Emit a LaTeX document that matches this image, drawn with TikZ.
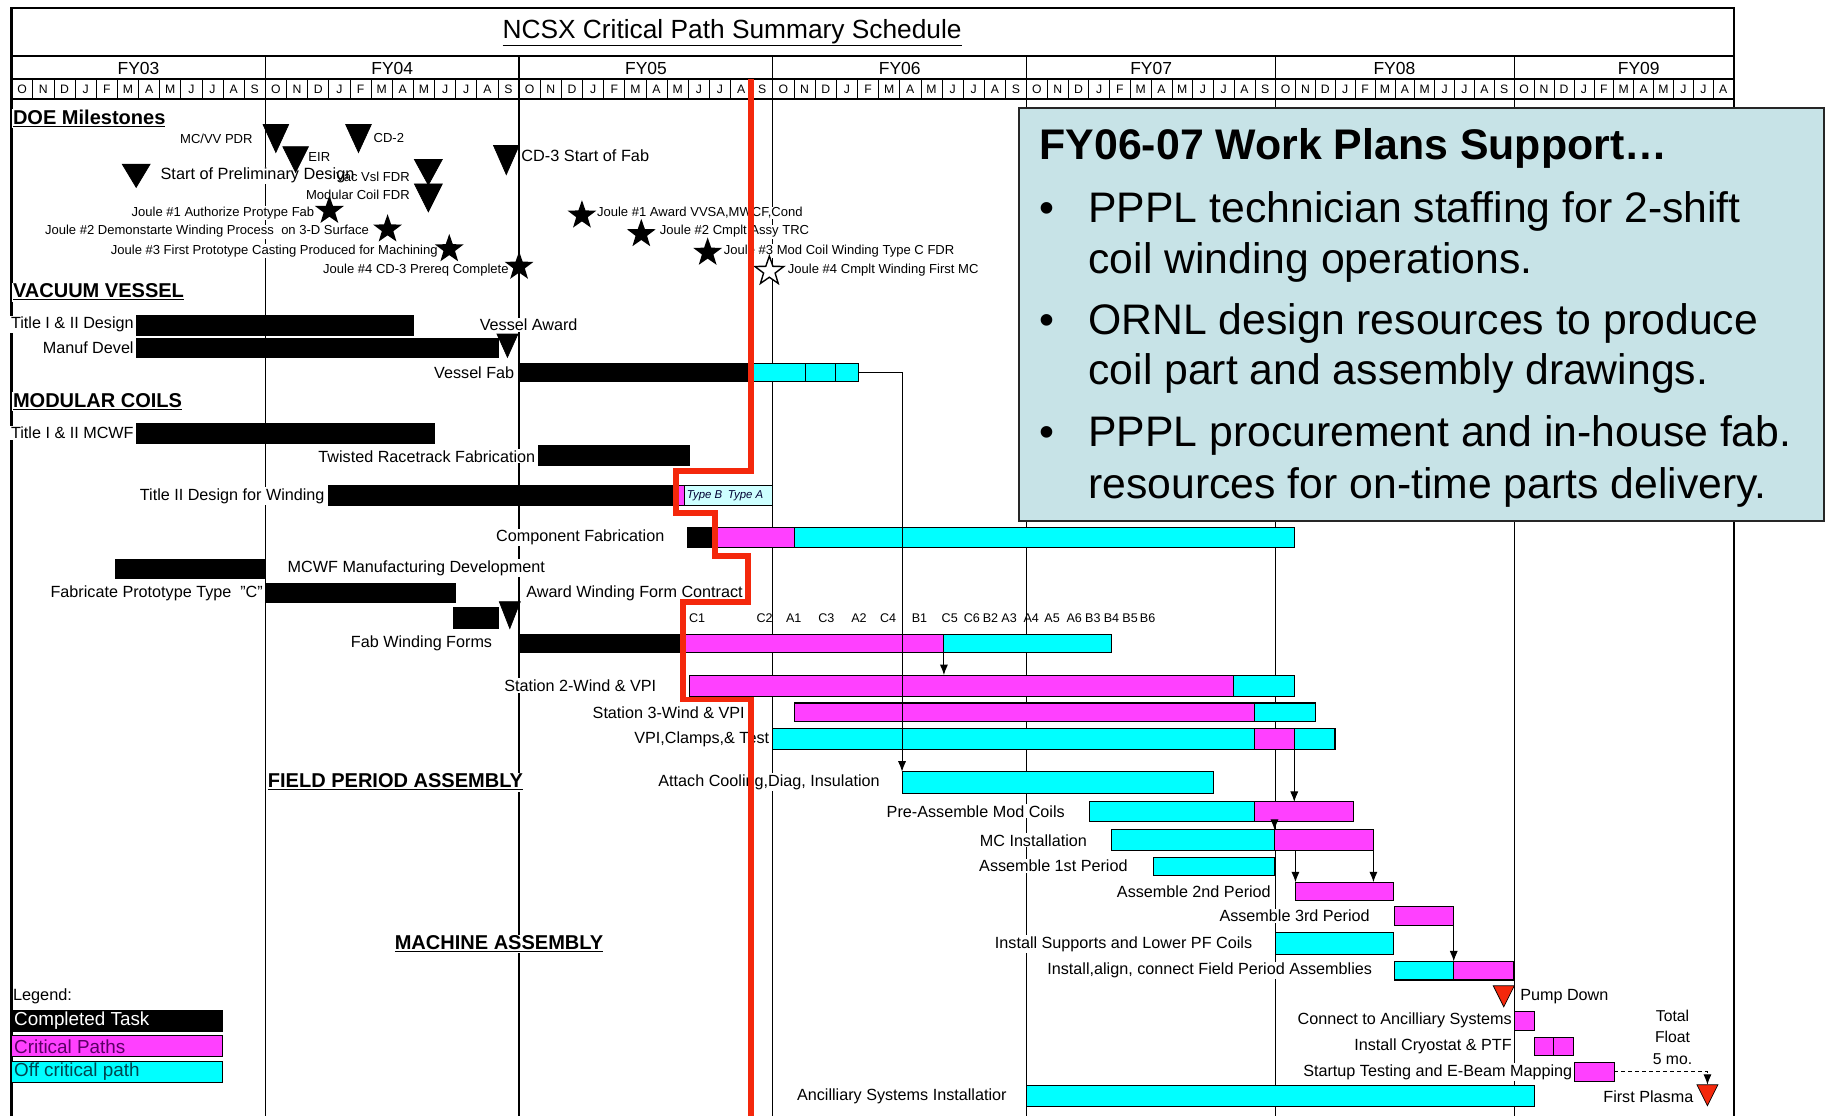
\documentclass[tikz,border=0pt]{standalone}
\usepackage{fontspec}
\setmainfont{Liberation Sans}
\usetikzlibrary{shapes.geometric,arrows.meta}
\definecolor{mag}{RGB}{255,64,255}
\definecolor{cyn}{RGB}{0,255,255}
\definecolor{redl}{RGB}{244,40,12}
\definecolor{callbg}{RGB}{199,227,231}
\definecolor{palecy}{RGB}{205,255,255}
\definecolor{critx}{RGB}{90,0,100}
\definecolor{offx}{RGB}{0,70,80}
\newcommand\fs[1]{\fontsize{#1}{#1}\selectfont}
\newcommand\gb[6]{\node[gbar,fill=#6,minimum width={(#3)-(#2)},minimum height={(#5)-(#4)},anchor=north west] (#1) at (#2,#4) {};}
\newcommand\mtri[6]{\coordinate (#1) at (#2,#3);\filldraw[fill=#6,draw=black,line width=0.6pt] (#2-#4/2,#3) -- (#2+#4/2,#3) -- (#2,#3+#5) -- cycle;}
\begin{document}
\begin{tikzpicture}[x=1pt,y=-1pt,
 gbar/.style={draw=black,line width=0.9pt,inner sep=0pt,outer sep=0pt},
 tl/.style={anchor=east,font=\fs{13.9},inner sep=1pt,fill=white},
 tlw/.style={anchor=west,font=\fs{13.9},inner sep=1pt,fill=white},
 ms/.style={font=\fs{11.2},inner sep=0.8pt,fill=white},
 hd/.style={anchor=west,font=\bfseries\fs{17.2},inner sep=1pt,fill=white},
 yl/.style={line width=1.1pt},
 arr/.style={-{Latex[length=9pt,width=7pt]},line width=0.9pt},
 st/.style={star,star points=5,star point ratio=2.5,fill=black,minimum size=26pt,inner sep=0pt},
 cl/.style={anchor=base west,font=\fs{36.7},inner sep=0pt},
 cab/.style={font=\fs{10.8},inner sep=0pt},
 lgt/.style={anchor=west,font=\fs{16.2},inner sep=1pt}
]
\useasboundingbox (0,0) rectangle (1568,959);
\fill[white] (0,0) rectangle (1568,959);

% ---------- header ----------
\foreach \x in {228,446,664,882,1096,1301} \draw[yl] (\x,48) -- (\x,959);
\draw[line width=2pt] (10,959) -- (10,7) -- (1490,7) -- (1490,959);
\draw[line width=1.5pt] (10,48) -- (1490,48);
\draw[line width=1.2pt] (10,68) -- (1490,68) (10,85) -- (1490,85);
\node[font=\fs{22.6},inner sep=0] (title) at (629,28) {\underline{NCSX Critical Path Summary Schedule}};
\foreach \lab/\cx [count=\i] in {FY03/119,FY04/337,FY05/555,FY06/773,FY07/989,FY08/1198,FY09/1408}
  \node[font=\fs{15},inner sep=0] (fy\i) at (\cx,58.5) {\lab};
\foreach \s/\mw/\n [count=\i] in {10/18.1667/12,228/18.1667/12,446/18.1667/12,664/18.1667/12,882/17.833/12,1096/17.083/12,1301/17.1/11}{
  \foreach \m [count=\k from 0] in {O,N,D,J,F,M,A,M,J,J,A,S}{
    \ifnum\k<\n
      \node[font=\fs{10.5},inner sep=0] (m\i-\k) at ({\s+\k*\mw+\mw/2},76.8) {\m};
      \draw[line width=0.6pt] ({\s+\k*\mw+\mw},69) -- ({\s+\k*\mw+\mw},85);
    \fi
  }
}

% ---------- DOE milestones ----------
\node[hd] (hdoe) at (10,102) {\underline{DOE Milestones}};
\node[ms,anchor=east] (lmcvv) at (218,119) {MC/VV PDR};
\node[ms,anchor=west] (lcd2) at (320,119) {CD-2};
\node[ms,anchor=west] (leir) at (264,135) {EIR};
\node[ms,anchor=west,font=\fs{14}] (lspd) at (137,151) {Start of Preliminary Design};
\node[ms,anchor=east,fill=none] (lvv) at (353,152) {Vac Vsl FDR};
\node[ms,anchor=east,fill=none] (lmc) at (353,167) {Modular Coil FDR};
\node[ms,anchor=west,font=\fs{14}] (lcd3) at (447,134) {CD-3 Start of Fab};
\node[ms,anchor=east] (lj1) at (271,183) {Joule \#1 Authorize Protype Fab};
\node[ms,anchor=east] (lj2) at (318,199) {Joule \#2 Demonstarte Winding Process\ \ on 3-D Surface};
\node[ms,anchor=east] (lj3) at (377,216) {Joule \#3 First Prototype Casting Produced for Machining};
\node[ms,anchor=east] (lj4) at (438,232) {Joule \#4 CD-3 Prereq Complete};
\node[ms,anchor=west] (lj5) at (512,183) {Joule \#1 Award VVSA,MWCF,Cond};
\node[ms,anchor=west] (lj6) at (566,199) {Joule \#2 Cmplt Assy TRC};
\node[ms,anchor=west] (lj7) at (621,216) {Joule \#3 Mod Coil Winding Type C FDR};
\node[ms,anchor=west] (lj8) at (676,232) {Joule \#4 Cmplt Winding First MC};
\mtri{tmcvv}{237}{107}{22}{24}{black}
\mtri{tcd2}{308}{107}{22}{24}{black}
\mtri{teir}{254}{126}{22}{22}{black}
\mtri{tspd}{117}{141}{24}{20}{black}
\mtri{tvv}{368}{137}{24}{22}{black}
\mtri{tmc}{368}{158}{24}{24}{black}
\mtri{tcd3}{435}{125}{22}{25}{black}
\node[st] (s1) at (283,181) {};
\node[st] (s2) at (333,197) {};
\node[st] (s3) at (386,214) {};
\node[st] (s4) at (446,229) {};
\node[st] (s5) at (500,185) {};
\node[st] (s6) at (551,201) {};
\node[st] (s7) at (608,217) {};
\node[st,fill=white,draw=black,line width=1.2pt] (s8) at (661,233) {};

% ---------- vacuum vessel ----------
\node[hd] (hvv) at (10,251) {\underline{VACUUM VESSEL}};
\node[tl] (ltid) at (116,279) {Title I \& II Design};
\gb{btid}{117}{355}{271}{288}{black}
\node[tl] (lmd) at (116,299) {Manuf Devel};
\gb{bmd}{117}{428}{291}{307}{black}
\node[tlw] (lva) at (411,279) {Vessel Award};
\mtri{tva}{436}{287}{18}{20}{black}
\node[tl] (lvf) at (443,320) {Vessel Fab};
\gb{vfk}{446}{645}{312}{328}{black}
\gb{vfc}{645}{738}{312}{328}{cyn}
\draw[line width=0.9pt] (692,312) -- (692,328) (718,312) -- (718,328);

% ---------- modular coils ----------
\node[hd] (hmc) at (10,345) {\underline{MODULAR COILS}};
\node[tl] (ltmc) at (116,372) {Title I \& II MCWF};
\gb{btmc}{117}{373}{364}{381}{black}
\node[tl] (ltrf) at (461,392) {Twisted Racetrack Fabrication};
\gb{btrf}{463}{592}{383}{400}{black}
\node[tl] (ltdw) at (280,426) {Title II Design for Winding};
\gb{tdk}{282}{582}{417}{434}{black}
\gb{tdm}{582}{588}{417}{434}{mag}
\gb{tdp}{588}{664}{417}{434}{palecy}
\node[anchor=west,font=\itshape\fs{9.8},inner sep=0,text=black!80!blue] (ltba) at (590,426) {Type B\enspace Type A};
\node[tl] (lcf) at (572,462) {Component Fabrication};
\gb{cfk}{591}{614}{453}{470}{black}
\gb{cfm}{614}{683}{453}{470}{mag}
\gb{cfc}{683}{1112}{453}{470}{cyn}
\gb{bmmd}{99}{228}{481}{497}{black}
\node[tlw] (lmmd) at (246,488) {MCWF Manufacturing Development};
\node[tl] (lfpt) at (227,510) {Fabricate Prototype Type\ \ "C"};
\gb{bfpt}{228}{391}{501}{518}{black}
\gb{bsm}{390}{428}{522}{540}{black}
\mtri{tawf}{438}{517}{18}{23}{black}
\node[tlw] (lawf) at (451,510) {Award Winding Form Contract};
\foreach \lab/\cx [count=\i] in {C1/599,C2/657,A1/682,C3/710,A2/738,C4/763,B1/790,C5/816,C6/835,B2/851,A3/867,A4/886,A5/904,A6/923,B3/939,B4/955,B5/971,B6/986}
  \node[cab] (cab\i) at (\cx,531) {\lab};
\node[tl] (lfwf) at (424,553) {Fab Winding Forms};
\gb{fwk}{446}{588}{545}{561}{black}
\gb{fwm}{588}{811}{545}{561}{mag}
\gb{fwc}{811}{955}{545}{561}{cyn}
\node[tl] (ls2) at (565,589) {Station 2-Wind \& VPI};
\gb{s2m}{592}{1060}{580}{598}{mag}
\gb{s2c}{1060}{1112}{580}{598}{cyn}
\node[tl] (ls3) at (641,612) {Station 3-Wind \& VPI};
\gb{s3m}{683}{1078}{604}{620}{mag}
\gb{s3c}{1078}{1130}{604}{620}{cyn}
\node[tl] (lvpi) at (662,635) {VPI,Clamps,\& Test};
\gb{vpc}{664}{1078}{626}{644}{cyn}
\gb{vpm}{1078}{1112}{626}{644}{mag}
\gb{vpd}{1112}{1147}{626}{644}{cyn}

% ---------- field period assembly ----------
\node[hd] (hfpa) at (229,672) {\underline{FIELD PERIOD ASSEMBLY}};
\node[tl] (latt) at (757,672) {Attach Cooling,Diag, Insulation};
\gb{att}{775}{1043}{663}{682}{cyn}
\node[tl] (lpa) at (916,697) {Pre-Assemble Mod Coils};
\gb{pac}{936}{1078}{689}{706}{cyn}
\gb{pam}{1078}{1163}{689}{706}{mag}
\node[tl] (lmci) at (935,722) {MC Installation};
\gb{mcc}{955}{1095}{713}{731}{cyn}
\gb{mcm}{1095}{1180}{713}{731}{mag}
\node[tl] (la1) at (970,744) {Assemble 1st Period};
\gb{a1}{991}{1095}{737}{752}{cyn}
\node[tl] (la2) at (1093,766) {Assemble 2nd Period};
\gb{a2}{1113}{1197}{758}{774}{mag}
\node[tl] (la3) at (1178,787) {Assemble 3rd Period};
\gb{a3}{1198}{1249}{779}{795}{mag}

% ---------- machine assembly ----------
\node[hd] (hma) at (338,811) {\underline{MACHINE ASSEMBLY}};
\node[tl] (lis) at (1077,811) {Install Supports and Lower PF Coils};
\gb{isc}{1096}{1197}{801}{820}{cyn}
\node[tl] (lia) at (1180,834) {Install,align, connect Field Period Assemblies};
\gb{iac}{1198}{1249}{826}{842}{cyn}
\gb{iam}{1249}{1300}{826}{842}{mag}
\mtri{tpd}{1292}{847}{18}{18}{redl}
\node[tlw,fill=none] (lpd) at (1305,856) {Pump Down};
\node[tl] (lcas) at (1300,877) {Connect to Ancilliary Systems};
\gb{cas}{1301}{1318}{869}{885}{mag}
\node[tl] (lcry) at (1300,899) {Install Cryostat \& PTF};
\gb{cry}{1318}{1352}{891}{907}{mag}
\draw[line width=0.9pt] (1335,891) -- (1335,907);
\node[tl] (lstu) at (1352,921) {Startup Testing and E-Beam Mapping};
\gb{stu}{1353}{1387}{913}{929}{mag}
\mtri{tfp}{1467}{932}{18}{18}{redl}
\node[tl,fill=none] (lfp) at (1456,942) {First Plasma};
\node[font=\fs{13.5},inner sep=0] (tf1) at (1437,873) {Total};
\node[font=\fs{13.5},inner sep=0] (tf2) at (1437,891) {Float};
\node[font=\fs{13.5},inner sep=0] (tf3) at (1437,910) {5 mo.};
\node[tl] (lasi) at (866,942) {Ancilliary Systems Installatior};
\gb{asi}{882}{1318}{933}{951}{cyn}

% ---------- connectors ----------
\draw[arr] (vfc.east) -| (att.north west);
\draw[arr] (fwc.south west) -- (fwc.south west |- s2m.north);
\draw[arr] (vpm.south east) -- (vpm.south east |- pam.north);
\draw[arr] (mcc.north east |- pam.south) -- (mcc.north east);
\draw[arr] (a2.north west |- mcm.south) -- (a2.north west);
\draw[arr] (mcm.south east) -- (mcm.south east |- a2.north);
\draw[arr] (a3.south east) -- (iam.north west);
\draw[arr,dashed] (stu.east) -| (tfp);

% ---------- legend ----------
\node[anchor=west,font=\fs{14},inner sep=1pt] (leg) at (10,856) {Legend:};
\node[gbar,fill=black,anchor=north west,minimum width=181,minimum height=18] (lg1) at (10,868) {};
\node[lgt,text=white] (lg1t) at (11,877) {Completed Task};
\node[gbar,fill=mag,anchor=north west,minimum width=181,minimum height=18] (lg2) at (10,890) {};
\node[lgt,text=critx] (lg2t) at (11,899) {Critical Paths};
\node[gbar,fill=cyn,anchor=north west,minimum width=181,minimum height=18] (lg3) at (10,912) {};
\node[lgt,text=offx] (lg3t) at (11,921) {Off critical path};

% ---------- status line ----------
\draw[redl,line width=5pt,line join=miter] (645,68) -- (645,405) -- (581,405) -- (581,441) -- (614,441) -- (614,478) -- (643,478) -- (643,517) -- (587,517) -- (587,601) -- (645,601) -- (645,959);

% ---------- callout ----------
\node[draw=black!85,line width=1.6pt,fill=callbg,anchor=north west,minimum width=691,minimum height=355,inner sep=0] (cb) at (875,92) {};
\node[anchor=base west,font=\bfseries\fs{36.8},inner sep=0] (ct) at (893,137) {FY06-07 Work Plans Support…};
\node[cl] (b1) at (893,191) {•};
\node[cl] (c1) at (935,191) {PPPL technician staffing for 2-shift};
\node[cl] (c2) at (935,235) {coil winding operations.};
\node[cl] (b2) at (893,287) {•};
\node[cl] (c3) at (935,287) {ORNL design resources to produce};
\node[cl] (c4) at (935,330) {coil part and assembly drawings.};
\node[cl] (b3) at (893,384) {•};
\node[cl] (c5) at (935,384) {PPPL procurement and in-house fab.};
\node[cl] (c6) at (935,428) {resources for on-time parts delivery.};
\end{tikzpicture}
\end{document}
